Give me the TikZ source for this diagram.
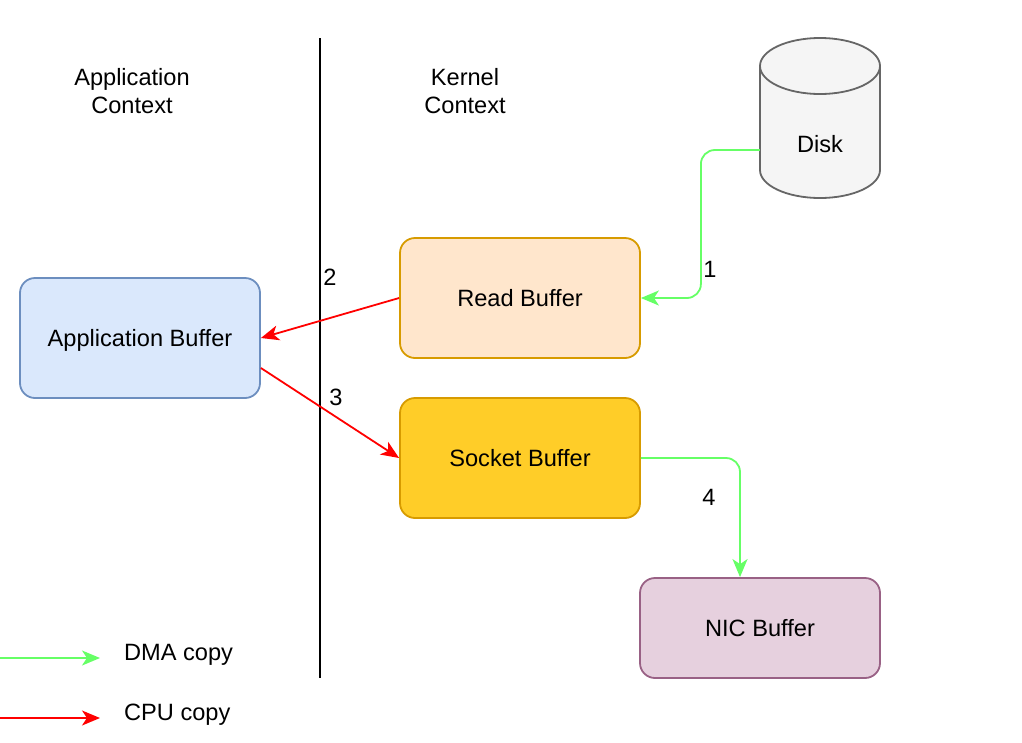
\documentclass[tikz,border=0pt]{standalone}
\usepackage{fontspec}
\setmainfont{Liberation Sans}
\usetikzlibrary{arrows.meta,calc}
\definecolor{dmagreen}{HTML}{66FF66}
\definecolor{cpured}{HTML}{FF0000}
\definecolor{appfill}{HTML}{DAE8FC}\definecolor{appdraw}{HTML}{6C8EBF}
\definecolor{readfill}{HTML}{FFE6CC}\definecolor{readdraw}{HTML}{D79B00}
\definecolor{sockfill}{HTML}{FFCD28}
\definecolor{nicfill}{HTML}{E6D0DE}\definecolor{nicdraw}{HTML}{996185}
\definecolor{diskfill}{HTML}{F5F5F5}\definecolor{diskdraw}{HTML}{666666}
\tikzset{
  txt/.style={font=\fontsize{23.6}{28}\selectfont, align=center, inner sep=0pt},
  bufbox/.style={txt, text height=16pt, text depth=0pt, rounded corners=15pt, line width=1.8pt, minimum width=240pt, minimum height=120pt},
  dmaline/.style={draw=dmagreen, line width=1.8pt, -{Stealth[length=18pt,width=15pt,inset=5pt]}},
  cpuline/.style={draw=cpured, line width=1.8pt, -{Stealth[length=18pt,width=15pt,inset=5pt]}},
}
\begin{document}
\begin{tikzpicture}[x=1pt,y=-1pt]
\useasboundingbox (0,0) rectangle (1022,742);
\fill[white] (0,0) rectangle (1022,742);

% divider
\coordinate (divtop) at (320,38);
\coordinate (divbot) at (320,678);
\draw[line width=1.8pt] (divtop) -- (divbot);

% headings
\node[txt] (appctx) at (132,91) {Application\\Context};
\node[txt] (kerctx) at (465,91) {Kernel\\Context};

% disk
\node[txt, minimum width=120pt, minimum height=160pt] (disk) at (820,118) {};
\draw[fill=diskfill, draw=diskdraw, line width=1.8pt]
  (760,66) -- (760,170) arc (180:360:60pt and 28pt) -- (880,66) arc (0:180:60pt and 28pt) -- cycle;
\draw[draw=diskdraw, line width=1.8pt] (760,66) arc (180:360:60pt and 28pt);
\node[txt] (disklabel) at (820,144) {Disk};

% buffers
\node[bufbox, fill=readfill, draw=readdraw] (read) at (520,298) {Read Buffer};
\node[bufbox, fill=appfill, draw=appdraw] (app) at (140,338) {Application Buffer};
\node[bufbox, fill=sockfill, draw=readdraw] (sock) at (520,458) {Socket Buffer};
\node[bufbox, fill=nicfill, draw=nicdraw, minimum height=100pt] (nic) at (760,628) {NIC Buffer};

% connectors
\draw[dmaline, rounded corners=14pt] ([yshift=-32pt]disk.west) -| ([xshift=60pt]read.east) -- (read.east);
\draw[cpuline] (read.west) -- (app.east);
\draw[cpuline] ([yshift=-30pt]app.east) -- (sock.west);
\draw[dmaline, rounded corners=14pt] (sock.east) -| ([xshift=-20pt]nic.north);

% step labels
\node[txt] (l1) at (710,269) {1};
\node[txt] (l2) at (330,277) {2};
\node[txt] (l3) at (336,397) {3};
\node[txt] (l4) at (709,497) {4};

% legend
\coordinate (g0) at (0,658);
\coordinate (g1) at (100,658);
\coordinate (r0) at (0,718);
\coordinate (r1) at (100,718);
\draw[dmaline] (g0) -- (g1);
\draw[cpuline] (r0) -- (r1);
\node[txt, anchor=west] (dmatext) at (124,655) {DMA copy};
\node[txt, anchor=west] (cputext) at (124,715) {CPU copy};
\end{tikzpicture}
\end{document}
